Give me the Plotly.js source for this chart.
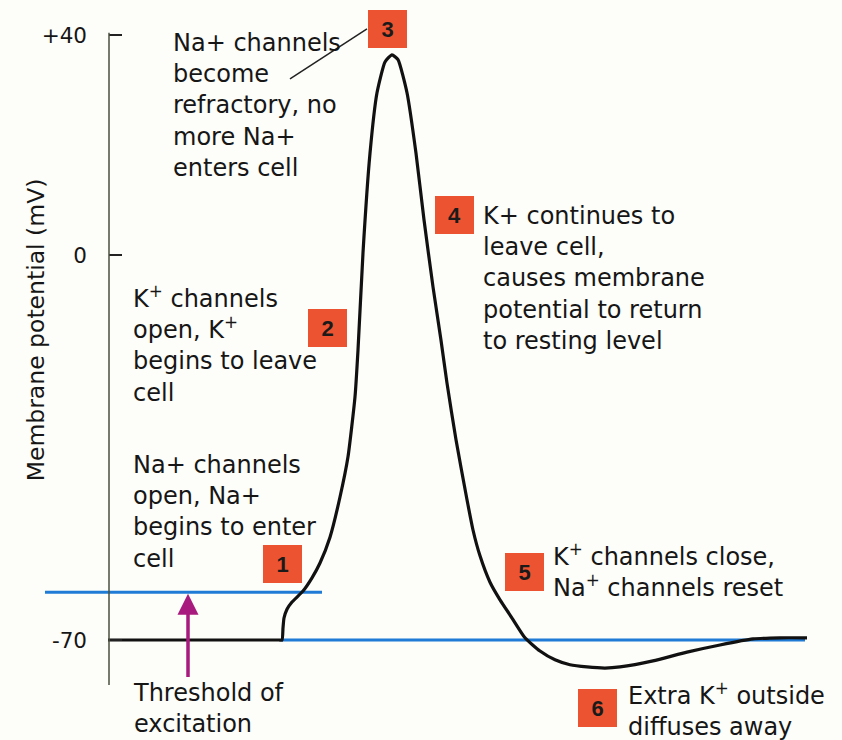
<!DOCTYPE html>
<html><head><meta charset="utf-8">
<script src="https://cdn.plot.ly/plotly-3.0.1.min.js"></script>
<style>html,body{margin:0;padding:0;background:#fdfdf9}</style>
</head><body><div id="chart" style="width:842px;height:740px"></div>
<script>
// Action potential trace (time in ms, membrane potential in mV)
const timeMs = [0.00, 0.60, 1.20, 1.60, 1.71, 1.74, 1.75, 1.76, 1.79, 1.84, 1.95, 2.04, 2.12, 2.22, 2.32, 2.40, 2.47, 2.50, 2.55, 2.62, 2.69, 2.77, 2.84, 2.90, 2.99, 3.08, 3.16, 3.25, 3.33, 3.39, 3.48, 3.59, 3.65, 3.72, 3.82, 3.92, 4.04, 4.17, 4.32, 4.47, 4.62, 4.79, 4.97, 5.12, 5.45, 5.79, 6.12, 6.45, 6.72, 6.99];
const membraneMv = [-70.0, -70.0, -70.0, -70.0, -70.0, -70.0, -67.8, -66.0, -64.4, -63.1, -61.1, -58.7, -56.0, -51.3, -44.0, -36.7, -25.8, -17.3, 0.4, 18.5, 29.5, 35.1, 36.4, 35.5, 29.5, 18.5, 6.4, -5.8, -15.5, -23.3, -33.6, -44.5, -50.0, -54.7, -59.5, -62.7, -66.0, -69.6, -72.0, -73.6, -74.5, -74.9, -75.1, -74.9, -73.8, -72.2, -70.9, -69.8, -69.6, -69.6];

const restingMv = -70;
const restingSpanMs = [1.74, 6.97];
const thresholdMv = -61.3;
const thresholdSpanMs = [-0.63, 2.14];

const yTickVals = [40, 0, -70];
const yTickText = ['+40', '0', '-70'];
const yAxisTitle = 'Membrane potential (mV)';

const stepNumbers = ['1', '2', '3', '4', '5', '6'];
const stepTexts = [
  'Na+ channels<br>open, Na+<br>begins to enter<br>cell',
  'K<sup>+</sup> channels<br>open, K<sup>+</sup><br>begins to leave<br>cell',
  'Na+ channels<br>become<br>refractory, no<br>more Na+<br>enters cell',
  'K+ continues to<br>leave cell,<br>causes membrane<br>potential to return<br>to resting level',
  'K<sup>+</sup> channels close,<br>Na<sup>+</sup> channels reset',
  'Extra K<sup>+</sup> outside<br>diffuses away'
];
const thresholdText = 'Threshold of<br>excitation';

// layout placement (data coordinates)
const boxPos = [[1.745, -56.2], [2.195, -13.2], [2.795, 41.1], [3.46, 7.27], [4.16, -57.7], [4.89, -82.4]];
const textPos = [[0.23, -46.8], [0.23, -16.1], [0.63, 27.1], [3.73, -4.3], [4.43, -57.3], [5.18, -82.6]];

const txtFont = {family: 'DejaVu Sans', size: 24, color: '#161616'};

const annotations = [];
stepNumbers.forEach((n, i) => {
  annotations.push({
    x: boxPos[i][0], y: boxPos[i][1], xref: 'x', yref: 'y',
    text: '<b>' + n + '</b>', showarrow: false,
    font: {family: 'Liberation Sans, Arial', size: 22, color: '#1a1a1a'},
    bgcolor: '#ec5331', width: 37, height: 36, borderpad: 1, borderwidth: 0,
    xanchor: 'center', yanchor: 'middle'
  });
  annotations.push({
    x: textPos[i][0], y: textPos[i][1], xref: 'x', yref: 'y',
    text: stepTexts[i], showarrow: false, font: txtFont, align: 'left',
    xanchor: 'left', yanchor: 'middle'
  });
});
annotations.push({
  x: 0.23, y: -82.4, xref: 'x', yref: 'y', text: thresholdText, showarrow: false,
  font: txtFont, align: 'left', xanchor: 'left', yanchor: 'middle'
});
annotations.push({
  x: 0.80, y: thresholdMv - 0.3, xref: 'x', yref: 'y', ax: 0.80, ay: -77.0, axref: 'x', ayref: 'y',
  text: '', showarrow: true, arrowhead: 2, arrowsize: 1.2, arrowwidth: 3.5, arrowcolor: '#a81a7d', standoff: 0
});
annotations.push({
  x: -0.72, y: -13.7, xref: 'x', yref: 'y', text: yAxisTitle, textangle: -90, showarrow: false,
  font: {family: 'DejaVu Sans', size: 23.5, color: '#161616'}, xanchor: 'center', yanchor: 'middle'
});

const traces = [
  {x: thresholdSpanMs, y: [thresholdMv, thresholdMv], mode: 'lines', line: {color: '#1f7bd6', width: 3}, hoverinfo: 'skip', cliponaxis: false},
  {x: restingSpanMs, y: [restingMv, restingMv], mode: 'lines', line: {color: '#1f7bd6', width: 3}, hoverinfo: 'skip', cliponaxis: false},
  {x: timeMs, y: membraneMv, mode: 'lines', line: {color: '#111', width: 3.2, shape: 'spline', smoothing: 0.5}, cliponaxis: false}
];

const layout = {
  width: 842, height: 740,
  margin: {l: 0, r: 0, t: 0, b: 0},
  paper_bgcolor: '#fdfdf9', plot_bgcolor: '#fdfdf9',
  showlegend: false,
  xaxis: {visible: false, range: [-1.08, 7.34], fixedrange: true},
  yaxis: {
    range: [-88.18, 46.36], anchor: 'free', position: 108 / 842,
    showgrid: false, zeroline: false, showline: false,
    ticks: 'inside', ticklen: 13, tickwidth: 2, tickcolor: '#222',
    tickvals: yTickVals, ticktext: yTickText, ticklabelstandoff: 21,
    tickfont: {family: 'DejaVu Sans', size: 21.5, color: '#161616'},
    automargin: false, fixedrange: true
  },
  shapes: [
    {type: 'line', xref: 'x', yref: 'y', x0: 0.01, x1: 0.01, y0: 40.4, y1: -78.2, line: {color: '#47503f', width: 1.5}},
    {type: 'line', xref: 'x', yref: 'y', x0: 2.59, y0: 41.1, x1: 1.82, y1: 32.0, line: {color: '#222', width: 1.5}}
  ],
  annotations: annotations
};

Plotly.newPlot('chart', traces, layout, {staticPlot: true, displayModeBar: false});
</script></body></html>
